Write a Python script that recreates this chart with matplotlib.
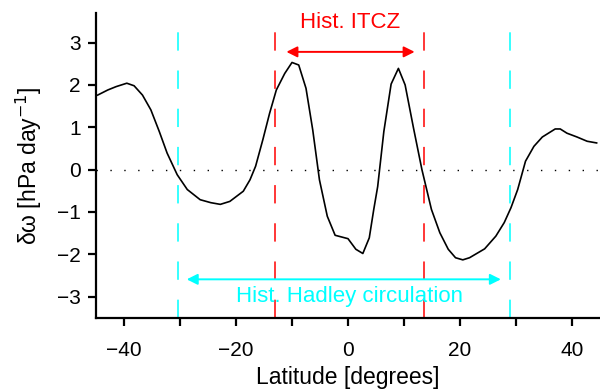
"""Anomalia de omega por latitude, com faixas históricas da ITCZ e da célula de Hadley."""

import matplotlib
matplotlib.use("Agg")
import matplotlib.pyplot as plt

plt.rcParams["font.family"] = ["Liberation Sans", "DejaVu Sans"]

# ── Dados ───────────────────────────────────────────────────────────────────────
LAT = [
    -44.7, -42.9, -41.4, -39.5, -38.2, -36.7, -35.2, -33.7, -32.3, -30.5,
    -28.7, -26.4, -24.5, -22.8, -21.1, -18.7, -17.5, -16.5, -15.2, -14.0,
    -12.8, -11.3, -10.0, -8.8, -7.5, -6.3, -5.1, -3.7, -2.3, 0.0,
    1.4, 2.65, 3.8, 4.6, 5.3, 6.4, 7.7, 9.0, 10.2, 11.7,
    13.2, 14.9, 16.4, 17.9, 19.2, 20.5, 21.7, 24.4, 26.4, 27.9,
    29.1, 30.3, 31.7, 33.2, 34.7, 37.0, 37.9, 39.1, 40.9, 42.7, 44.4,
]
D_OMEGA = [
    1.76, 1.88, 1.96, 2.04, 1.98, 1.76, 1.41, 0.90, 0.39, -0.12,
    -0.47, -0.71, -0.78, -0.82, -0.75, -0.51, -0.24, 0.08, 0.71, 1.33,
    1.88, 2.27, 2.53, 2.47, 1.92, 0.94, -0.24, -1.10, -1.55, -1.63,
    -1.88, -1.98, -1.61, -0.94, -0.40, 0.90, 2.02, 2.39, 2.00, 0.98,
    0.00, -0.94, -1.49, -1.88, -2.08, -2.13, -2.08, -1.87, -1.57, -1.25,
    -0.90, -0.47, 0.20, 0.55, 0.77, 0.96, 0.96, 0.86, 0.77, 0.67, 0.63,
]

ITCZ_EDGES = [-13.0, 13.6]
HADLEY_EDGES = [-30.4, 29.0]
ITCZ_ARROW = [-11.0, 11.9]
HADLEY_ARROW = [-28.8, 27.3]

XTICKS = [-40, -20, 0, 20, 40]
YTICKS = [-3, -2, -1, 0, 1, 2, 3]


def _minus(v):
    return f"{v}".replace("-", "\u2212")


# ── Figura ─────────────────────────────────────────────────────────────────────
fig = plt.figure(figsize=(6.0, 3.91), dpi=100)
ax = fig.add_axes([0.16, 0.187, 0.84, 0.78])

ax.axhline(0, color="black", linewidth=1.0, linestyle=(0, (1, 9)), zorder=1)

vtop = 0.965
for x in HADLEY_EDGES:
    ax.axvline(x, ymax=vtop, color="cyan", linewidth=1.1,
               linestyle=(0, (12, 13)), zorder=2)
for x in ITCZ_EDGES:
    ax.axvline(x, ymax=vtop, color="red", linewidth=1.1,
               linestyle=(0, (12, 13)), zorder=2)

ax.plot(LAT, D_OMEGA, color="black", linewidth=1.2, zorder=3)

ax.annotate("", xy=(ITCZ_ARROW[0], 2.78), xytext=(ITCZ_ARROW[1], 2.78),
            arrowprops=dict(arrowstyle="<|-|>", color="red", lw=1.4,
                            mutation_scale=16, shrinkA=0, shrinkB=0))
ax.text(0.3, 3.48, "Hist. ITCZ", color="red", fontsize=16,
        ha="center", va="center")

ax.annotate("", xy=(HADLEY_ARROW[0], -2.59), xytext=(HADLEY_ARROW[1], -2.59),
            arrowprops=dict(arrowstyle="<|-|>", color="cyan", lw=1.4,
                            mutation_scale=16, shrinkA=0, shrinkB=0))
ax.text(0.2, -3.0, "Hist. Hadley circulation", color="cyan", fontsize=16,
        ha="center", va="center")

ax.set_xlim(-45, 45)
ax.set_ylim(-3.5, 3.7)
ax.set_xticks(XTICKS)
ax.set_xticks(range(-40, 50, 10), minor=True)
ax.set_yticks(YTICKS)
ax.set_yticklabels([_minus(v) for v in YTICKS])
ax.set_xticklabels([_minus(v) for v in XTICKS])

for side in ("top", "right"):
    ax.spines[side].set_visible(False)
for side in ("left", "bottom"):
    ax.spines[side].set_linewidth(1.6)
ax.tick_params(which="both", direction="out", width=1.6, length=6,
               labelsize=15)
ax.tick_params(axis="x", which="major", pad=11)
ax.tick_params(axis="y", which="major", pad=5)

ax.set_xlabel("Latitude [degrees]", fontsize=16.5, labelpad=4)
ax.set_ylabel(r"δω [hPa day$^{-1}$]", fontsize=16.5, labelpad=9)

fig.savefig("out.png", dpi=100)
